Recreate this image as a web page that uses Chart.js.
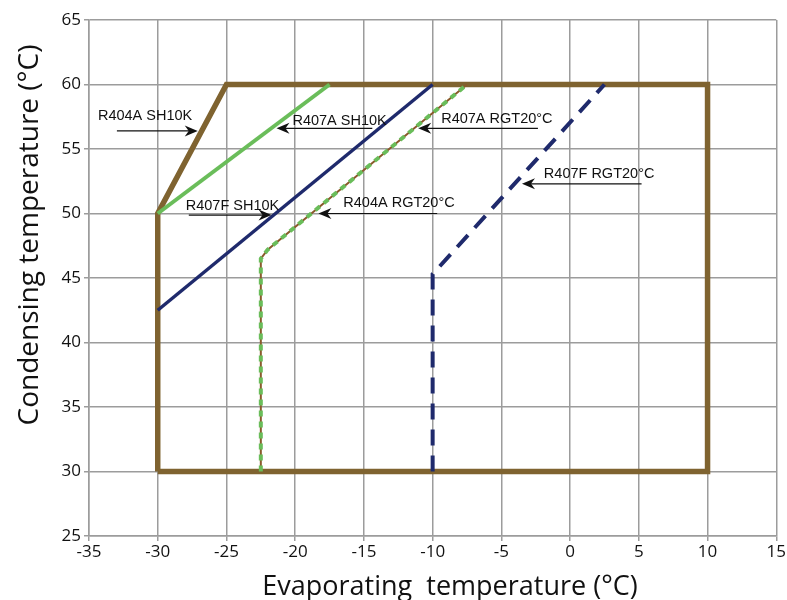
<!DOCTYPE html>
<html>
<head>
<meta charset="utf-8">
<script src="https://cdn.jsdelivr.net/npm/chart.js@4.4.1/dist/chart.umd.min.js"></script>
<style>
  html, body { margin: 0; padding: 0; background: #fff; }
  #wrap { width: 787px; height: 600px; }
</style>
</head>
<body>
<div id="wrap"><canvas id="envelope-chart" width="787" height="600"></canvas></div>
<script>
  // operating envelope (evaporating / condensing, °C)
  const envelopeX = [-30, -30, -25, 10, 10, -30];
  const envelopeY = [30, 50, 60, 60, 30, 30];

  const r407aShX = [-30, -17.5];
  const r407aShY = [50, 60];

  const r407fShX = [-30, -10];
  const r407fShY = [42.5, 60];

  const r404aRgtX = [-22.5, -22.5, -22, -7.5];
  const r404aRgtY = [30, 46.5, 47.2, 60];

  const r407aRgtX = [-22.5, -22.5, -22, -7.5];
  const r407aRgtY = [30, 46.5, 47.2, 60];

  const r407fRgtX = [-10, -10, 2.5];
  const r407fRgtY = [30, 45.3, 60];

  const xTicks = [-35, -30, -25, -20, -15, -10, -5, 0, 5, 10, 15];
  const yTicks = [25, 30, 35, 40, 45, 50, 55, 60, 65];

  // labels with arrows: text anchor (x, y) and arrow from -> to, in data units
  const labelNames = ['R404A SH10K', 'R407A SH10K', 'R407F SH10K', 'R404A RGT20°C', 'R407A RGT20°C', 'R407F RGT20°C'];
  const labelX = [-34.35, -20.2, -27.96, -16.5, -9.38, -1.91];
  const labelY = [57.25, 56.86, 50.27, 50.5, 57.0, 52.75];
  const arrowFromX = [-32.97, -14.39, -27.74, -9.67, -2.34, 5.2];
  const arrowToX = [-27.09, -21.36, -21.72, -18.31, -11.05, -3.5];
  const arrowY = [56.4, 56.6, 49.88, 50.0, 56.6, 52.3];

  const brown = '#7f6330';
  const green = '#6abd5a';
  const navy = '#1f2a6c';
  const gridColor = '#9c9c9c';

  function toPoints(xs, ys) {
    return xs.map((x, i) => ({ x: x, y: ys[i] }));
  }

  const labelsPlugin = {
    id: 'labelsPlugin',
    afterDatasetsDraw(chart) {
      const ctx = chart.ctx;
      const xs = chart.scales.x;
      const ys = chart.scales.y;
      ctx.save();
      ctx.fillStyle = '#111';
      ctx.strokeStyle = '#111';
      ctx.font = '14.5px "Liberation Sans", Arial, sans-serif';
      ctx.textBaseline = 'alphabetic';
      ctx.textAlign = 'left';
      labelNames.forEach((name, i) => {
        ctx.fillText(name, xs.getPixelForValue(labelX[i]), ys.getPixelForValue(labelY[i]));
        const x1 = xs.getPixelForValue(arrowFromX[i]);
        const x2 = xs.getPixelForValue(arrowToX[i]);
        const y = ys.getPixelForValue(arrowY[i]);
        const dir = x2 > x1 ? 1 : -1;
        ctx.lineWidth = 1.2;
        ctx.beginPath();
        ctx.moveTo(x1, y);
        ctx.lineTo(x2 - dir * 6, y);
        ctx.stroke();
        // barbed arrow head
        ctx.beginPath();
        ctx.moveTo(x2, y);
        ctx.lineTo(x2 - dir * 13, y - 5.5);
        ctx.lineTo(x2 - dir * 9, y);
        ctx.lineTo(x2 - dir * 13, y + 5.5);
        ctx.closePath();
        ctx.fill();
      });
      ctx.restore();
    }
  };

  const titlesPlugin = {
    id: 'titlesPlugin',
    afterDraw(chart) {
      const ctx = chart.ctx;
      ctx.save();
      ctx.fillStyle = '#111';
      ctx.textAlign = 'center';
      ctx.textBaseline = 'alphabetic';
      ctx.font = '27px "Open Sans", "DejaVu Sans", sans-serif';
      ctx.fillText('Evaporating  temperature (°C)', 450, 595);
      ctx.font = '28px "Open Sans", "DejaVu Sans", sans-serif';
      ctx.translate(38, 235);
      ctx.rotate(-Math.PI / 2);
      ctx.fillText('Condensing temperature (°C)', 0, 0);
      ctx.restore();
    }
  };

  window.onload = () => {
    const ctx = document.getElementById('envelope-chart').getContext('2d');
    new Chart(ctx, {
      type: 'scatter',
      data: {
        datasets: [
          {
            label: 'R407A RGT20°C',
            data: toPoints(r407aRgtX, r407aRgtY),
            borderColor: green,
            borderWidth: 4,
            borderDash: [6, 5],
            order: 0,
          },
          {
            label: 'R404A RGT20°C',
            data: toPoints(r404aRgtX, r404aRgtY),
            borderColor: '#8a5a2c',
            borderWidth: 2,
            order: 1,
          },
          {
            label: 'R407F SH10K',
            data: toPoints(r407fShX, r407fShY),
            borderColor: navy,
            borderWidth: 3.5,
            order: 2,
          },
          {
            label: 'R407A SH10K',
            data: toPoints(r407aShX, r407aShY),
            borderColor: green,
            borderWidth: 4,
            order: 3,
          },
          {
            label: 'R407F RGT20°C',
            data: toPoints(r407fRgtX, r407fRgtY),
            borderColor: navy,
            borderWidth: 4,
            borderDash: [16, 10],
            order: 4,
          },
          {
            label: 'R404A SH10K',
            data: toPoints(envelopeX, envelopeY),
            borderColor: brown,
            borderWidth: 5.5,
            borderJoinStyle: 'miter',
            order: 5,
          },
        ],
      },
      options: {
        responsive: false,
        animation: false,
        showLine: true,
        pointRadius: 0,
        pointHoverRadius: 0,
        layout: { padding: { top: 20, right: 9, left: 0, bottom: 0 } },
        plugins: {
          legend: { display: false },
          tooltip: { enabled: false },
        },
        elements: { line: { tension: 0, fill: false } },
        scales: {
          x: {
            type: 'linear',
            min: -35,
            max: 15,
            afterBuildTicks: (scale) => { scale.ticks = xTicks.map(v => ({ value: v })); },
            afterFit: (scale) => { scale.height = 64; },
            grid: { color: gridColor, lineWidth: 1.5, tickLength: 5 },
            border: { color: gridColor, width: 1.5 },
            ticks: {
              color: '#111',
              padding: 1,
              font: { family: '"Open Sans", "DejaVu Sans", sans-serif', size: 17 },
            },
          },
          y: {
            type: 'linear',
            min: 25,
            max: 65,
            afterBuildTicks: (scale) => { scale.ticks = yTicks.map(v => ({ value: v })); },
            afterFit: (scale) => { scale.width = 89; },
            grid: { color: gridColor, lineWidth: 1.5, tickLength: 5 },
            border: { color: gridColor, width: 1.5 },
            ticks: {
              color: '#111',
              padding: 3,
              font: { family: '"Open Sans", "DejaVu Sans", sans-serif', size: 17 },
            },
          },
        },
      },
      plugins: [labelsPlugin, titlesPlugin],
    });
  };
</script>
</body>
</html>
